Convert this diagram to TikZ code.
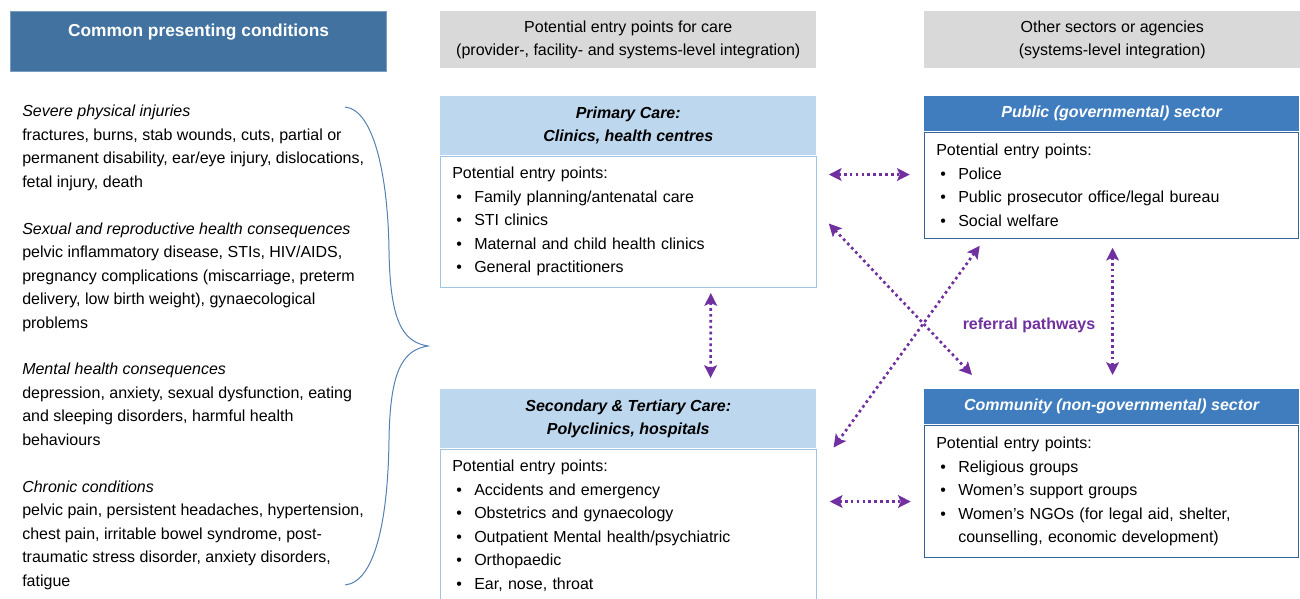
\documentclass[tikz,border=0pt]{standalone}
\usepackage{fontspec}
\setmainfont{Liberation Sans}
\usetikzlibrary{positioning,calc,arrows.meta}

\definecolor{headblue}{RGB}{66,114,160}
\definecolor{sectblue}{RGB}{64,125,190}
\definecolor{careblue}{RGB}{189,215,238}
\definecolor{careline}{RGB}{160,196,230}
\definecolor{headgray}{RGB}{217,217,217}
\definecolor{refpurple}{RGB}{112,48,160}
\definecolor{bracecol}{RGB}{84,128,178}

% bullet with hanging indent
\newcommand{\bul}{\hspace*{3pt}\makebox[13.5pt][l]{\textbullet}}
\newcommand{\hang}{\hspace*{16.5pt}}

\begin{document}
\begin{tikzpicture}[x=0.75pt,y=-0.75pt,
  font=\fontsize{12}{17.6}\selectfont,
  grayhead/.style={anchor=north west,fill=headgray,minimum width=282pt,
    minimum height=42.75pt,align=center,inner sep=0pt,
    font=\fontsize{12}{17.25}\selectfont},
  carehd/.style={anchor=north west,fill=careblue,minimum width=282pt,
    minimum height=44.25pt,align=center,inner sep=0pt,
    font=\fontsize{12}{17.25}\selectfont\bfseries\itshape},
  carebd/.style={below=0pt of #1,draw=careline,line width=0.8pt,fill=white,
    text width=264pt,inner xsep=9pt,inner ysep=8.5pt,align=left},
  sectorhd/.style={anchor=north west,fill=sectblue,minimum width=281pt,
    minimum height=26.25pt,inner sep=0pt,text=white,
    font=\fontsize{12}{17.25}\selectfont\bfseries\itshape},
  sectorbd/.style={below=0pt of #1,draw=sectblue!80!black,line width=0.8pt,fill=white,
    text width=263pt,inner xsep=9pt,inner ysep=9pt,align=left},
  refarrow/.style={draw=refpurple,line width=2pt,dash pattern=on 2pt off 2.4pt,
    {Stealth[length=9.5pt,width=9.5pt,inset=2pt]}-{Stealth[length=9.5pt,width=9.5pt,inset=2pt]}}]
\useasboundingbox (0,0) rectangle (1300,599);

% column headers
\node[anchor=north west,fill=headblue,draw=headblue!70!white,line width=0.8pt,
  minimum width=282pt,minimum height=45pt,inner sep=0pt,align=center,text=white,
  font=\fontsize{13}{17.6}\selectfont\bfseries] (condhd) at (10,11)
  {Common presenting conditions\\ \mbox{}};
\node[grayhead] (carehd) at (440,11)
  {Potential entry points for care\\(provider-, facility- and systems-level integration)};
\node[grayhead] (agenhd) at (924,11)
  {Other sectors or agencies\\(systems-level integration)};

% conditions list
\node[anchor=north west,inner sep=0pt,align=left] (condlist) at (22,105)
  {\textit{Severe physical injuries}\\
   fractures, burns, stab wounds, cuts, partial or\\
   permanent disability, ear/eye injury, dislocations,\\
   fetal injury, death\\[17.6pt]
   \textit{Sexual and reproductive health consequences}\\
   pelvic inflammatory disease, STIs, HIV/AIDS,\\
   pregnancy complications (miscarriage, preterm\\
   delivery, low birth weight), gynaecological\\
   problems\\[17.6pt]
   \textit{Mental health consequences}\\
   depression, anxiety, sexual dysfunction, eating\\
   and sleeping disorders, harmful health\\
   behaviours\\[17.6pt]
   \textit{Chronic conditions}\\
   pelvic pain, persistent headaches, hypertension,\\
   chest pain, irritable bowel syndrome, post-\\
   traumatic stress disorder, anxiety disorders,\\
   fatigue};

% brace
\draw[bracecol,line width=0.75pt] (345,107) .. controls (375,110) and (388,180) .. (389,250)
  .. controls (390,320) and (402,342) .. (428,346)
  .. controls (402,350) and (390,372) .. (389,440)
  .. controls (388,520) and (375,582) .. (345,585);

% health care boxes
\node[carehd] (primhd) at (440,96) {Primary Care:\\Clinics, health centres};
\node[carebd=primhd] (primbd) {Potential entry points:\\
  \bul Family planning/antenatal care\\
  \bul STI clinics\\
  \bul Maternal and child health clinics\\
  \bul General practitioners};

\node[carehd] (sechd) at (440,389) {Secondary \& Tertiary Care:\\Polyclinics, hospitals};
\node[carebd=sechd] (secbd) {Potential entry points:\\
  \bul Accidents and emergency\\
  \bul Obstetrics and gynaecology\\
  \bul Outpatient Mental health/psychiatric\\
  \bul Orthopaedic\\
  \bul Ear, nose, throat\\
  \mbox{}};

% other sectors
\node[sectorhd] (pubhd) at (924,96) {Public (governmental) sector};
\node[sectorbd=pubhd] (pubbd) {Potential entry points:\\
  \bul Police\\
  \bul Public prosecutor office/legal bureau\\
  \bul Social welfare};

\node[sectorhd] (comhd) at (924,389) {Community (non-governmental) sector};
\node[sectorbd=comhd] (combd) {Potential entry points:\\
  \bul Religious groups\\
  \bul Women's support groups\\
  \bul Women's NGOs (for legal aid, shelter,\\
  \hang counselling, economic development)};

% referral pathways
\node[text=refpurple,font=\fontsize{12}{14}\selectfont\bfseries] (refl) at (1029,325) {referral pathways};
\draw[refarrow] ($(primbd.north east)+(12,19)$) -- ($(pubbd.north west)+(-14,43)$);
\draw[refarrow] ($(secbd.north east)+(13,53)$) -- ($(combd.north west)+(-13,77)$);
\draw[refarrow] ($(primbd.south east)+(-106,5)$) -- ($(sechd.north east)+(-106,-11)$);
\draw[refarrow] ($(pubbd.south)+(1,9)$) -- ($(comhd.north)+(1,-14)$);
\draw[refarrow] ($(primbd.north east)+(12,68)$) -- ($(comhd.north west)+(48,-14)$);
\draw[refarrow] ($(pubbd.south west)+(56,7)$) -- ($(sechd.south east)+(17,-1)$);
\end{tikzpicture}
\end{document}
